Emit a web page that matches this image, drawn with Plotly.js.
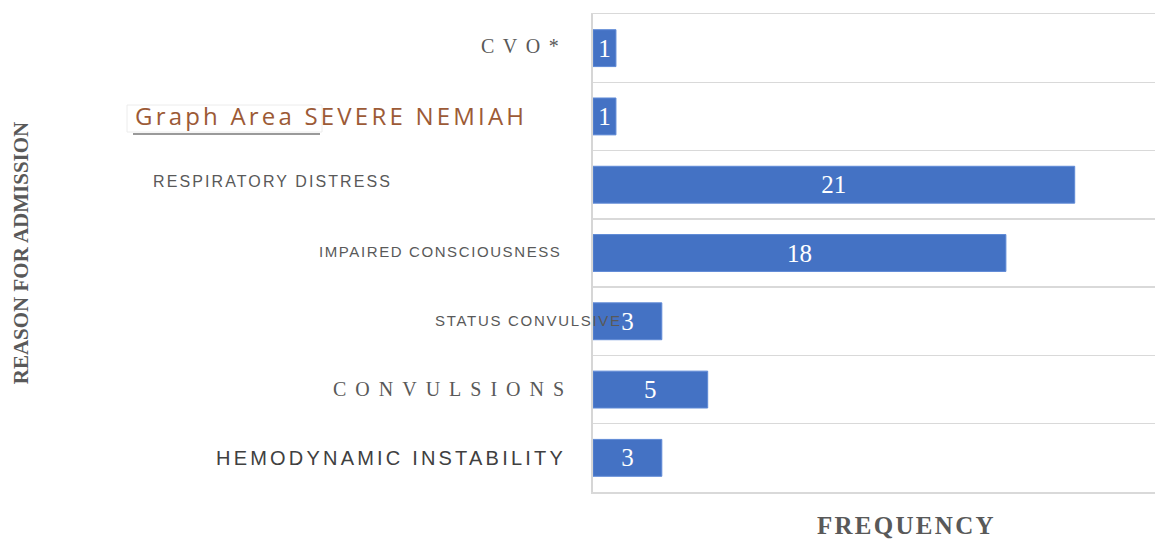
<!DOCTYPE html>
<html><head><meta charset="utf-8">
<script src="https://cdn.plot.ly/plotly-3.0.1.min.js"></script>
<style>html,body{margin:0;padding:0;background:#fff}#chart{width:1155px;height:539px}</style>
</head><body><div id="chart"></div>
<script>
// ---- data ----
const categories = ["CVO*", "Graph Area SEVERE NEMIAH", "RESPIRATORY DISTRESS", "IMPAIRED CONSCIOUSNESS", "STATUS CONVULSIVE", "CONVULSIONS", "HEMODYNAMIC INSTABILITY"];
const frequency = [1, 1, 21, 18, 3, 5, 3];
const xTitle = "FREQUENCY";
const yTitle = "REASON FOR ADMISSION";

// ---- styles ----
const SERIF = "Liberation Serif, Times New Roman, serif";
const SANS = "Liberation Sans, Arial, sans-serif";
const L = 593, W = 562, T = 14, H = 478;
const labelStyles = [
  {family: SERIF, size: 20, color: "#595959", ls: 8.5, anchor: "right", px: 561, dy: 2},
  {family: "Open Sans, sans-serif", size: 24, color: "#9c5a36", ls: 3.2, anchor: "left", px: 133, dy: 1},
  {family: SANS, size: 16, color: "#595959", ls: 2.1, anchor: "left", px: 151, dy: 3},
  {family: SANS, size: 15, color: "#595959", ls: 1.6, anchor: "right", px: 562, dy: 2},
  {family: SANS, size: 15, color: "#595959", ls: 1.7, anchor: "left", px: 433, dy: 1},
  {family: SERIF, size: 20, color: "#595959", ls: 9, anchor: "right", px: 566, dy: 1},
  {family: SANS, size: 20, color: "#404040", ls: 3.2, anchor: "right", px: 565, dy: 0}
];
function spaced(t, ls) {
  return '<span style="letter-spacing:' + ls + 'px">' + t.slice(0, -1) + '</span>' + t.slice(-1);
}
const px2x = p => (p - L) / W;
const py2y = p => (T + H - p) / H;

const annotations = categories.map((c, i) => {
  const s = labelStyles[i];
  return {
    xref: 'paper', yref: 'y', x: px2x(s.px), y: c,
    xanchor: s.anchor, yanchor: 'middle', yshift: s.dy,
    text: spaced(c, s.ls), showarrow: false,
    font: {family: s.family, size: s.size, color: s.color}
  };
});

const trace = {
  type: 'bar', orientation: 'h',
  y: categories, x: frequency,
  text: frequency.map(String),
  textposition: 'inside', insidetextanchor: 'middle', textangle: 0,
  constraintext: 'none',
  textfont: {family: SERIF, size: 25, color: '#ffffff'},
  marker: {color: '#4472c4', line: {color: '#5f8ad6', width: 1}},
  hoverinfo: 'x+y'
};

const layout = {
  width: 1155, height: 539,
  margin: {l: L, r: 0, t: T, b: 539 - T - H, pad: 0},
  paper_bgcolor: '#ffffff', plot_bgcolor: '#ffffff',
  bargap: 0.46,
  showlegend: false,
  xaxis: {
    range: [0, 24.5], showticklabels: false, ticks: '', showgrid: false, zeroline: false,
    showline: true, mirror: true, linecolor: '#d9d9d9', linewidth: 1.5,
    automargin: false,
    title: {text: '&nbsp;'.repeat(10) + spaced(xTitle, 2.3),
            font: {family: SERIF, size: 25, color: '#595959', weight: 'bold'}}
  },
  yaxis: {
    type: 'category', autorange: 'reversed', showticklabels: false, ticks: '',
    tickson: 'boundaries', showgrid: true, gridcolor: '#d9d9d9', gridwidth: 1.5,
    showline: true, linecolor: '#d6d6d6', linewidth: 2, zeroline: false,
    automargin: true,
    title: {text: yTitle, standoff: 557,
            font: {family: SERIF, size: 21, color: '#595959', weight: 'bold'}}
  },
  shapes: [
    {type: 'rect', xref: 'paper', yref: 'paper', layer: 'below',
     x0: px2x(127), x1: px2x(322), y0: py2y(132), y1: py2y(105),
     fillcolor: '#ffffff', line: {color: '#ececec', width: 1}},
    {type: 'line', xref: 'paper', yref: 'paper',
     x0: px2x(133), x1: px2x(320), y0: py2y(134), y1: py2y(134),
     line: {color: '#9a9a9a', width: 2}}
  ],
  annotations: annotations
};

Plotly.newPlot('chart', [trace], layout, {displayModeBar: false, staticPlot: true});
</script>
</body></html>
